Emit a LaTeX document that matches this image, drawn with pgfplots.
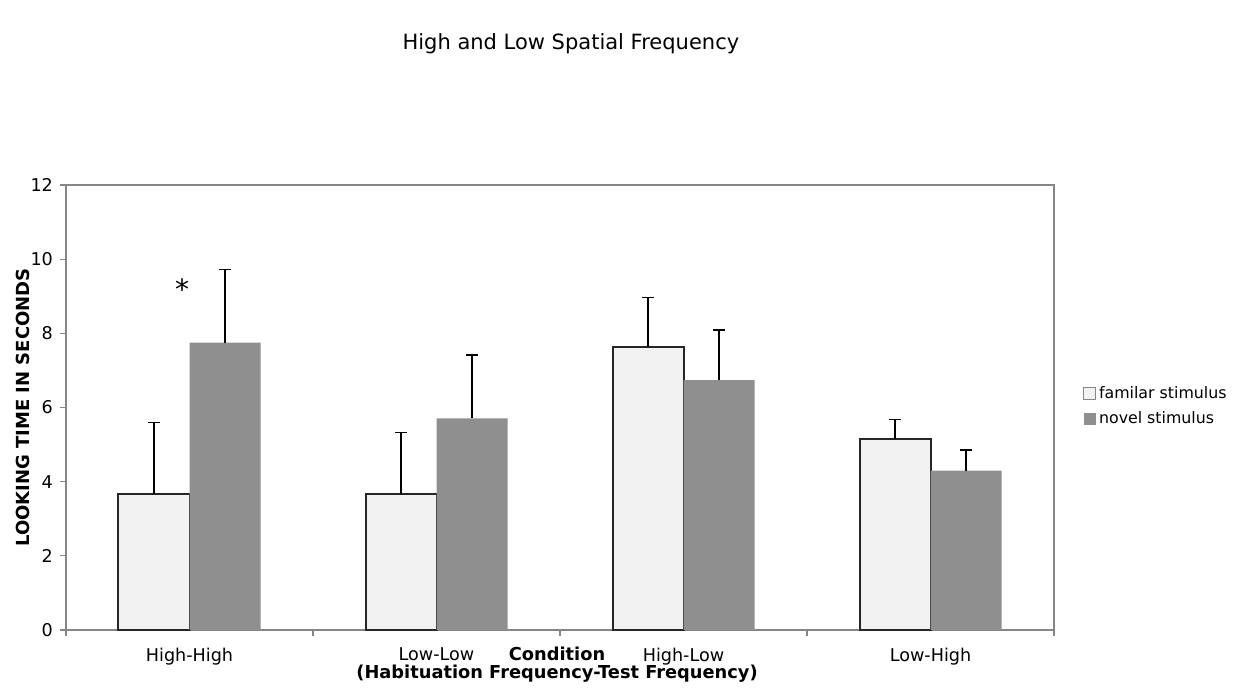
\documentclass[border=0pt]{standalone}
\usepackage{fontspec}
\setmainfont{DejaVu Sans}
\usepackage{pgfplots}
\pgfplotsset{compat=1.18}
\definecolor{famfill}{RGB}{242,242,242}
\definecolor{novfill}{RGB}{143,143,143}
\definecolor{axgray}{RGB}{134,134,134}
\begin{document}
\begin{tikzpicture}
\begin{axis}[
  scale only axis, width=494pt, height=222.5pt,
  xmin=-0.5, xmax=3.5, ymin=0, ymax=12,
  ybar=0pt, bar width=35.5pt,
  ytick={0,2,4,6,8,10,12},
  xtick={-0.5,0.5,1.5,2.5,3.5}, xticklabels={},
  extra x ticks={0,1,2,3},
  extra x tick labels={High-High,Low-Low,High-Low,Low-High},
  extra x tick style={tick style={draw=none}},
  xtick pos=bottom, ytick pos=left,
  tick align=outside, major tick length=3pt,
  tick style={axgray, line width=0.6pt},
  axis line style={axgray, line width=0.7pt},
  /pgf/number format/assume math mode=true,
  tick label style={font=\fontsize{8.8}{10.5}\selectfont},
  xticklabel style={yshift=-2.5pt},
  ylabel={LOOKING TIME IN SECONDS},
  ylabel style={at={(axis description cs:-0.0435,0.5)}, anchor=center, font=\bfseries\fontsize{9}{10.8}\selectfont},
  xlabel={Condition\\[-1.5pt](Habituation Frequency-Test Frequency)},
  xlabel style={at={(axis description cs:0.497,-0.078)}, anchor=center, align=center, font=\bfseries\fontsize{8.9}{10.5}\selectfont},
  title={High and Low Spatial Frequency},
  every axis title shift=0pt,
  title style={at={(axis description cs:0.511,1.318)}, anchor=center, font=\fontsize{10.5}{12.6}\selectfont},
  legend style={at={(axis description cs:1.029,0.555)}, anchor=north west, draw=none, fill=none,
    font=\fontsize{7.9}{9.4}\selectfont, row sep=2pt, inner sep=0pt, nodes={inner sep=1.5pt}},
  legend cell align=left,
  error bars/error bar style={black, line width=0.75pt},
  error bars/error mark options={rotate=90, mark size=3pt, line width=0.75pt, black},
]
\addplot[fill=famfill, draw=black!85, line width=1pt,
  legend image code/.code={\draw[fill=famfill, draw=axgray, line width=0.5pt] (0pt,-3pt) rectangle (6pt,3pt);},
  error bars/.cd, y dir=plus, y explicit]
  coordinates {(0,3.67) +- (0,1.93) (1,3.67) +- (0,1.66) (2,7.63) +- (0,1.34) (3,5.14) +- (0,0.54)};
\addplot[fill=novfill, draw=none,
  legend image code/.code={\fill[novfill] (0pt,-3pt) rectangle (6pt,3pt);},
  error bars/.cd, y dir=plus, y explicit]
  coordinates {(0,7.75) +- (0,1.97) (1,5.71) +- (0,1.70) (2,6.74) +- (0,1.35) (3,4.30) +- (0,0.56)};
\legend{familar stimulus, novel stimulus}
\node[font=\fontsize{14}{16}\selectfont] at (axis cs:-0.03,9.2) {*};
\coordinate (sw) at (rel axis cs:0,0);
\coordinate (ne) at (rel axis cs:1,1);
\end{axis}
\pgfresetboundingbox
\path ([shift={(-33pt,-30pt)}]sw) rectangle ([shift={(94.5pt,92.5pt)}]ne);
\end{tikzpicture}
\end{document}
